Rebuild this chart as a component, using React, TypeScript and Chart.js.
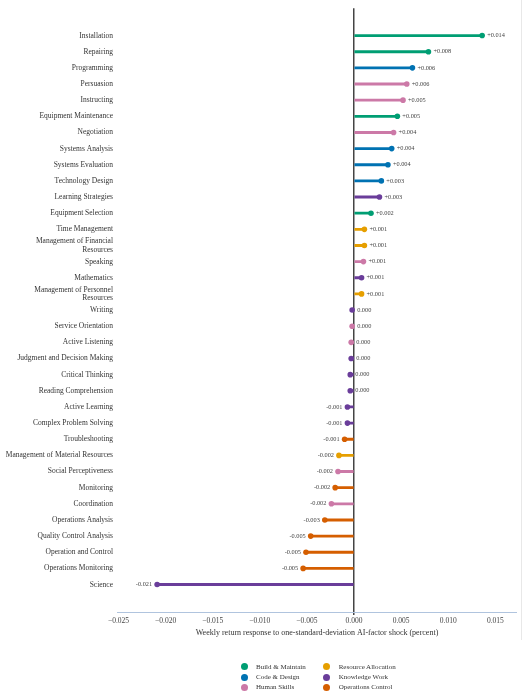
import React, { useEffect, useRef } from 'react';
import { Chart, registerables } from 'chart.js';

Chart.register(...registerables);

const skills = [
  'Installation',
  'Repairing',
  'Programming',
  'Persuasion',
  'Instructing',
  'Equipment Maintenance',
  'Negotiation',
  'Systems Analysis',
  'Systems Evaluation',
  'Technology Design',
  'Learning Strategies',
  'Equipment Selection',
  'Time Management',
  'Management of Financial\nResources',
  'Speaking',
  'Mathematics',
  'Management of Personnel\nResources',
  'Writing',
  'Service Orientation',
  'Active Listening',
  'Judgment and Decision Making',
  'Critical Thinking',
  'Reading Comprehension',
  'Active Learning',
  'Complex Problem Solving',
  'Troubleshooting',
  'Management of Material Resources',
  'Social Perceptiveness',
  'Monitoring',
  'Coordination',
  'Operations Analysis',
  'Quality Control Analysis',
  'Operation and Control',
  'Operations Monitoring',
  'Science',
];

const values = [
  0.0136, 0.0079, 0.0062, 0.0056, 0.0052, 0.0046, 0.0042, 0.004, 0.0036, 0.0029,
  0.0027, 0.0018, 0.0011, 0.0011, 0.001, 0.0008, 0.0008, -0.0002, -0.0002, -0.0003,
  -0.0003, -0.0004, -0.0004, -0.0007, -0.0007, -0.001, -0.0016, -0.0017, -0.002,
  -0.0024, -0.0031, -0.0046, -0.0051, -0.0054, -0.0209,
];

const groupNames = [
  'Build & Maintain',
  'Code & Design',
  'Human Skills',
  'Resource Allocation',
  'Knowledge Work',
  'Operations Control',
];

const groupColors = ['#009E73', '#0072B2', '#CC79A7', '#E69F00', '#6A3D9A', '#D55E00'];

// group index per skill (same order as skills)
const skillGroups = [
  0, 0, 1, 2, 2, 0, 2, 1, 1, 1,
  4, 0, 3, 3, 2, 4, 3, 4, 2, 2,
  4, 4, 4, 4, 4, 5, 3, 2, 5, 2,
  5, 5, 5, 5, 4,
];

const xTicks = [-0.025, -0.02, -0.015, -0.01, -0.005, 0, 0.005, 0.01, 0.015];
const xTitle = 'Weekly return response to one-standard-deviation AI-factor shock (percent)';

const SERIF = "'Liberation Serif', 'Times New Roman', serif";

function fmtValue(v: number): string {
  const r = Math.round(v * 1000) / 1000;
  if (r === 0) return '0.000';
  return (r > 0 ? '+' : '-') + Math.abs(r).toFixed(3);
}

function fmtTick(v: number): string {
  if (Math.abs(v) < 1e-12) return '0.000';
  return (v < 0 ? '\u2212' : '') + Math.abs(v).toFixed(3);
}

const valueLabelPlugin = {
  id: 'valueLabels',
  afterDatasetsDraw(chart: any) {
    const meta = chart.getDatasetMeta(1);
    const ctx = chart.ctx;
    ctx.save();
    ctx.font = `6.3px ${SERIF}`;
    ctx.fillStyle = '#444444';
    ctx.textBaseline = 'middle';
    meta.data.forEach((el: any, i: number) => {
      const text = fmtValue(values[i]);
      if (text.startsWith('-')) {
        ctx.textAlign = 'right';
        ctx.fillText(text, el.x - 5, el.y);
      } else {
        ctx.textAlign = 'left';
        ctx.fillText(text, el.x + 5, el.y);
      }
    });
    ctx.restore();
  },
};

function LollipopChart() {
  const ref = useRef<HTMLCanvasElement | null>(null);
  useEffect(() => {
    if (!ref.current) return;
    const colors = skillGroups.map((g) => groupColors[g]);
    const chart = new Chart(ref.current, {
      type: 'scatter',
      data: {
        datasets: [
          {
            type: 'bar',
            indexAxis: 'y',
            data: values.map((v, i) => ({ x: [0, v], y: i })),
            backgroundColor: colors,
            borderWidth: 0,
            barThickness: 2.2,
            order: 2,
          } as any,
          {
            type: 'scatter',
            data: values.map((v, i) => ({ x: v, y: i })),
            backgroundColor: colors,
            pointRadius: 2.8,
            pointBorderWidth: 0,
            borderWidth: 0,
            order: 1,
          } as any,
        ],
      },
      options: {
        animation: false,
        responsive: true,
        maintainAspectRatio: false,
        indexAxis: 'y',
        layout: { padding: { top: 3, right: 6, left: 0, bottom: 0 } },
        plugins: {
          legend: { display: false },
          tooltip: { enabled: false },
        },
        scales: {
          x: {
            type: 'linear',
            offset: false,
            min: -0.02516,
            max: 0.0173,
            afterBuildTicks: (s: any) => {
              s.ticks = xTicks.map((v) => ({ value: v }));
            },
            afterFit: (s: any) => {
              s.height = 30;
            },
            border: { display: true, color: '#b0c4de', width: 1 },
            grid: {
              offset: false,
              drawOnChartArea: true,
              drawTicks: true,
              tickLength: 3,
              tickColor: '#444444',
              color: (c: any) => (c.tick && Math.abs(c.tick.value) < 1e-12 ? '#444444' : 'rgba(0,0,0,0)'),
              lineWidth: (c: any) => (c.tick && Math.abs(c.tick.value) < 1e-12 ? 1.5 : 0),
            },
            ticks: {
              autoSkip: false,
              maxRotation: 0,
              padding: 2,
              color: '#444444',
              font: { family: SERIF, size: 7.5 },
              callback: (v: any) => fmtTick(Number(v)),
            },
            title: {
              display: true,
              text: xTitle,
              color: '#333333',
              font: { family: SERIF, size: 8 },
              padding: { top: 2, bottom: 4 },
            },
          },
          y: {
            type: 'linear',
            offset: false,
            reverse: true,
            min: -1.7,
            max: 35.7,
            afterBuildTicks: (s: any) => {
              s.ticks = skills.map((_, i) => ({ value: i }));
            },
            afterFit: (s: any) => {
              s.width = 117;
            },
            border: { display: false },
            grid: { display: false, drawTicks: false, offset: false },
            ticks: {
              autoSkip: false,
              padding: 4,
              color: '#333333',
              font: { family: SERIF, size: 7.5, lineHeight: 1.1 },
              callback: (v: any) => {
                const s = skills[Math.round(Number(v))];
                return s ? s.split('\n') : '';
              },
            },
          },
        },
      },
      plugins: [valueLabelPlugin],
    });
    return () => chart.destroy();
  }, []);
  return (
    <div style={{ position: 'absolute', left: 0, top: 0, width: 523, height: 642 }}>
      <canvas ref={ref} />
    </div>
  );
}

function Legend() {
  return (
    <div style={{ position: 'absolute', left: 0, top: 0, width: 523, height: 700, pointerEvents: 'none' }}>
      {groupNames.map((name, k) => {
        const col = k < 3 ? 0 : 1;
        const row = k % 3;
        const cx = 244 + col * 82.7;
        const cy = 666.7 + row * 10.3;
        return (
          <React.Fragment key={name}>
            <div
              style={{
                position: 'absolute',
                left: cx - 3.5,
                top: cy - 3.5,
                width: 7,
                height: 7,
                borderRadius: '50%',
                background: groupColors[k],
              }}
            />
            <div
              style={{
                position: 'absolute',
                left: cx + 12,
                top: cy - 5,
                height: 10,
                lineHeight: '10px',
                fontFamily: SERIF,
                fontSize: 7,
                color: '#333333',
                whiteSpace: 'nowrap',
              }}
            >
              {name}
            </div>
          </React.Fragment>
        );
      })}
    </div>
  );
}

export default function App() {
  return (
    <div style={{ position: 'absolute', left: 0, top: 0, width: 523, height: 700, background: '#ffffff' }}>
      <LollipopChart />
      <div style={{ position: 'absolute', left: 521, top: 0, width: 1, height: 640, background: '#e8e8e8' }} />
      <Legend />
    </div>
  );
}
